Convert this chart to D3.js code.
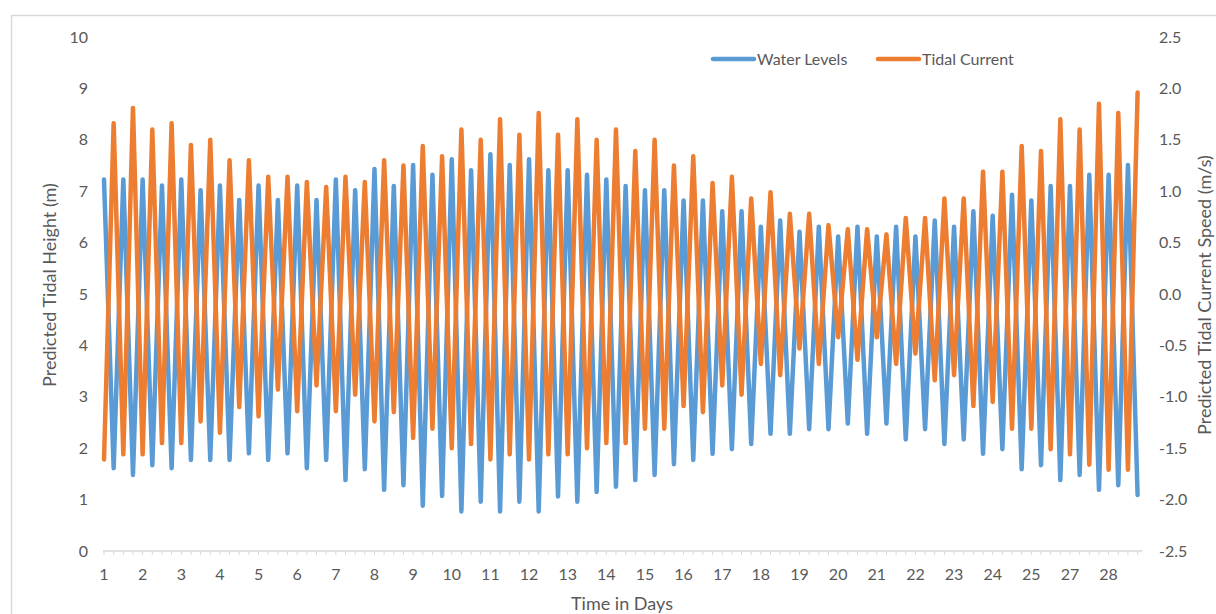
<!DOCTYPE html>
<html>
<head>
<meta charset="utf-8">
<script src="https://cdn.jsdelivr.net/npm/d3@7"></script>
<style>
  body { margin: 0; background: #fff; }
  svg { display: block; font-family: Lato, "Noto Sans", sans-serif; }
</style>
</head>
<body>
<div id="plot"></div>
<script>
// four points a day: high, low, high, low (water) / trough, peak, trough, peak (current)
var waterLevels = [
  7.23, 1.61, 7.23, 1.48,   7.23, 1.67, 7.11, 1.61,   7.23, 1.77, 7.02, 1.77,
  7.11, 1.77, 6.83, 1.90,   7.11, 1.77, 6.83, 1.90,   7.11, 1.61, 6.83, 1.77,
  7.23, 1.38, 7.02, 1.59,   7.43, 1.19, 7.10, 1.28,   7.51, 0.88, 7.32, 1.07,
  7.62, 0.77, 7.41, 0.96,   7.72, 0.77, 7.51, 0.96,   7.62, 0.77, 7.41, 1.06,
  7.41, 0.96, 7.32, 1.15,   7.23, 1.25, 7.10, 1.38,   7.02, 1.48, 7.02, 1.69,
  6.82, 1.77, 6.82, 1.89,   6.61, 1.98, 6.61, 2.08,   6.31, 2.28, 6.43, 2.28,
  6.21, 2.37, 6.31, 2.37,   6.12, 2.48, 6.31, 2.28,   6.12, 2.48, 6.31, 2.17,
  6.12, 2.37, 6.43, 2.08,   6.31, 2.17, 6.61, 1.89,   6.52, 1.98, 6.93, 1.59,
  6.82, 1.67, 7.10, 1.38,   7.10, 1.48, 7.32, 1.19,   7.32, 1.28, 7.51, 1.09
];

var tidalCurrent = [
  -1.61, 1.66, -1.56, 1.81,   -1.56, 1.60, -1.45, 1.66,   -1.45, 1.45, -1.24, 1.50,
  -1.35, 1.30, -1.10, 1.30,   -1.19, 1.14, -0.93, 1.14,   -1.14, 1.09, -0.89, 1.04,
  -1.14, 1.14, -0.98, 1.09,   -1.24, 1.30, -1.15, 1.25,   -1.40, 1.44, -1.31, 1.34,
  -1.50, 1.60, -1.46, 1.50,   -1.61, 1.70, -1.56, 1.55,   -1.61, 1.76, -1.56, 1.55,
  -1.56, 1.70, -1.50, 1.50,   -1.45, 1.60, -1.45, 1.39,   -1.31, 1.50, -1.31, 1.25,
  -1.09, 1.34, -1.15, 1.08,   -0.89, 1.14, -0.98, 0.93,   -0.68, 0.99, -0.79, 0.78,
  -0.53, 0.78, -0.68, 0.67,   -0.42, 0.63, -0.64, 0.63,   -0.42, 0.58, -0.68, 0.74,
  -0.58, 0.74, -0.84, 0.93,   -0.79, 0.93, -1.09, 1.19,   -1.05, 1.19, -1.31, 1.44,
  -1.31, 1.39, -1.51, 1.70,   -1.56, 1.60, -1.66, 1.85,   -1.71, 1.76, -1.71, 1.96
];

// category labels, one every 4 points (the source skips 26)
var dayLabels = ['1','2','3','4','5','6','7','8','9','10','11','12','13','14','15',
  '16','17','18','19','20','21','22','23','24','25','27','28'];

var leftTicks = [0,1,2,3,4,5,6,7,8,9,10];
var rightTicks = [-2.5,-2.0,-1.5,-1.0,-0.5,0.0,0.5,1.0,1.5,2.0,2.5];

var blue = '#5b9bd5', orange = '#ed7d31', textCol = '#595959', gridCol = '#d9d9d9';

var W = 1216, H = 614;
var svg = d3.select('#plot').append('svg')
  .attr('width', W).attr('height', H);

// chart frame
svg.append('rect')
  .attr('x', 11.5).attr('y', 15.5)
  .attr('width', 1300).attr('height', 700)
  .attr('fill', 'none').attr('stroke', gridCol).attr('stroke-width', 1.5);

var n = waterLevels.length;
var x = d3.scaleLinear().domain([0, n - 1]).range([104, 1137.6]);
var yL = d3.scaleLinear().domain([0, 10]).range([551, 37]);
var yR = d3.scaleLinear().domain([-2.5, 2.5]).range([551, 37]);

// left axis labels
var gl = svg.append('g')
  .attr('transform', 'translate(91,0)')
  .call(d3.axisLeft(yL).tickValues(leftTicks).tickSize(0).tickPadding(3));
gl.select('.domain').remove();
gl.selectAll('text').attr('fill', textCol).style('font-size', '16px').style('font-family', 'Lato');

// right axis labels (plain hyphen for the minus, like the source)
var gr = svg.append('g')
  .attr('transform', 'translate(1156,0)')
  .call(d3.axisRight(yR).tickValues(rightTicks).tickSize(0).tickPadding(3)
    .tickFormat(function(d) { return d.toFixed(1); }));
gr.select('.domain').remove();
gr.selectAll('text').attr('fill', textCol).style('font-size', '16px').style('font-family', 'Lato');

// x axis: line + a small tick at every point
var step = x(1) - x(0);
svg.append('line')
  .attr('x1', x(0) - 1).attr('x2', x(n - 1) + step / 2)
  .attr('y1', 551).attr('y2', 551)
  .attr('stroke', gridCol).attr('stroke-width', 1.5);

svg.selectAll('line.xtick')
  .data(d3.range(n))
  .enter().append('line')
  .attr('class', 'xtick')
  .attr('x1', function(d) { return x(d); })
  .attr('x2', function(d) { return x(d); })
  .attr('y1', 551).attr('y2', 555)
  .attr('stroke', gridCol).attr('stroke-width', 1);

svg.selectAll('text.xlab')
  .data(dayLabels)
  .enter().append('text')
  .attr('class', 'xlab')
  .attr('x', function(d, i) { return x(i * 4); })
  .attr('y', 580)
  .attr('text-anchor', 'middle')
  .attr('fill', textCol)
  .style('font-size', '16px')
  .text(function(d) { return d; });

// titles
svg.append('text')
  .attr('x', 622).attr('y', 610)
  .attr('text-anchor', 'middle').attr('fill', textCol)
  .style('font-size', '18px')
  .text('Time in Days');

svg.append('text')
  .attr('transform', 'translate(56,285) rotate(-90)')
  .attr('text-anchor', 'middle').attr('fill', textCol)
  .style('font-size', '18px')
  .text('Predicted Tidal Height (m)');

svg.append('text')
  .attr('transform', 'translate(1211,295) rotate(-90)')
  .attr('text-anchor', 'middle').attr('fill', textCol)
  .style('font-size', '18px')
  .text('Predicted Tidal Current Speed (m/s)');

// series
var lineL = d3.line()
  .x(function(d, i) { return x(i); })
  .y(function(d) { return yL(d); });
var lineR = d3.line()
  .x(function(d, i) { return x(i); })
  .y(function(d) { return yR(d); });

svg.append('path')
  .datum(waterLevels)
  .attr('d', lineL)
  .attr('fill', 'none').attr('stroke', blue)
  .attr('stroke-width', 4.5)
  .attr('stroke-linejoin', 'round').attr('stroke-linecap', 'round');

svg.append('path')
  .datum(tidalCurrent)
  .attr('d', lineR)
  .attr('fill', 'none').attr('stroke', orange)
  .attr('stroke-width', 4.5)
  .attr('stroke-linejoin', 'round').attr('stroke-linecap', 'round');

// legend
var legend = [
  { name: 'Water Levels', color: blue, x: 713 },
  { name: 'Tidal Current', color: orange, x: 878 }
];
var lg = svg.selectAll('g.leg')
  .data(legend)
  .enter().append('g')
  .attr('class', 'leg')
  .attr('transform', function(d) { return 'translate(' + d.x + ',59)'; });
lg.append('line')
  .attr('x1', 0).attr('x2', 41)
  .attr('y1', 0).attr('y2', 0)
  .attr('stroke', function(d) { return d.color; })
  .attr('stroke-width', 4.5).attr('stroke-linecap', 'round');
lg.append('text')
  .attr('x', 44).attr('y', 5.5)
  .attr('fill', textCol)
  .style('font-size', '16px')
  .text(function(d) { return d.name; });
</script>
</body>
</html>
